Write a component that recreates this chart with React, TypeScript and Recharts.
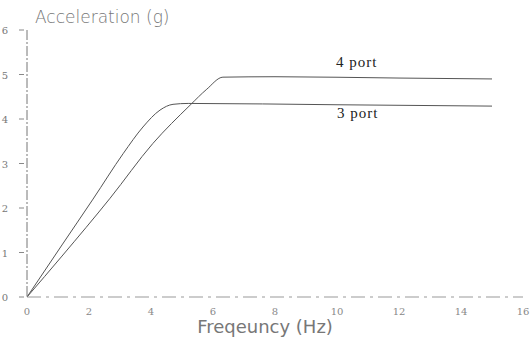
import { LineChart, Line, XAxis, YAxis } from "recharts";

// 3 port response
const freq3 = [0, 1.13, 2.13, 3.1, 3.74, 4.29, 4.71, 5.2, 10, 15];
const acc3 = [0, 1.17, 2.2, 3.22, 3.82, 4.2, 4.33, 4.35, 4.32, 4.29];

// 4 port response
const freq4 = [0, 1.13, 2.68, 4.06, 5.26, 5.8, 6.32, 8, 12, 15];
const acc4 = [0, 0.92, 2.22, 3.45, 4.31, 4.67, 4.94, 4.95, 4.92, 4.9];

const xTicks = [0, 2, 4, 6, 8, 10, 12, 14, 16];
const yTicks = [0, 1, 2, 3, 4, 5, 6];

const port3 = freq3.map((f, i) => ({ f, a: acc3[i] }));
const port4 = freq4.map((f, i) => ({ f, a: acc4[i] }));

const YTick = (props: any) => {
	const { x, y, payload } = props;
	return (
		<g>
			<text
				x={x - 11}
				y={y + 4}
				textAnchor="end"
				fontSize={10}
				fill="#777"
				fontFamily="DejaVu Serif"
			>
				{payload.value}
			</text>
			<line x1={x} x2={x + 5} y1={y} y2={y} stroke="#888" strokeWidth={1} />
		</g>
	);
};

const XTick = (props: any) => {
	const { x, y, payload } = props;
	return (
		<text
			x={x}
			y={y + 10}
			textAnchor="middle"
			fontSize={10}
			fill="#888"
			fontFamily="DejaVu Serif"
		>
			{payload.value}
		</text>
	);
};

export default function App() {
	return (
		<div style={{ position: "absolute", left: 0, top: 0, background: "#fff" }}>
			<LineChart
				width={531}
				height={349}
				margin={{ top: 30, right: 8, left: 0, bottom: 0 }}
			>
				<XAxis
					type="number"
					dataKey="f"
					domain={[0, 16]}
					ticks={xTicks}
					height={52}
					axisLine={{ stroke: "#999", strokeDasharray: "14 5 3 5" }}
					tickLine={false}
					tick={<XTick />}
					allowDuplicatedCategory={false}
				/>
				<YAxis
					type="number"
					domain={[0, 6]}
					ticks={yTicks}
					width={27}
					axisLine={{ stroke: "#777", strokeDasharray: "10 2 2 2" }}
					tickLine={false}
					tick={<YTick />}
				/>
				<Line
					data={port4}
					dataKey="a"
					type="monotone"
					stroke="#555"
					strokeWidth={1}
					dot={false}
					isAnimationActive={false}
				/>
				<Line
					data={port3}
					dataKey="a"
					type="monotone"
					stroke="#555"
					strokeWidth={1}
					dot={false}
					isAnimationActive={false}
				/>
				<text
					x={35}
					y={23}
					fontSize={17}
					fill="#777"
					fontFamily="DejaVu Sans"
					fontWeight={300}
				>
					Acceleration (g)
				</text>
				<text
					x={265}
					y={333}
					textAnchor="middle"
					fontSize={18}
					fill="#777"
					fontFamily="DejaVu Sans"
				>
					Freqeuncy (Hz)
				</text>
				<text
					x={336}
					y={67}
					fontSize={15}
					letterSpacing={1}
					fill="#222"
					fontFamily="Liberation Serif"
				>
					4 port
				</text>
				<text
					x={337}
					y={118}
					fontSize={15}
					letterSpacing={1}
					fill="#222"
					fontFamily="Liberation Serif"
				>
					3 port
				</text>
			</LineChart>
		</div>
	);
}
